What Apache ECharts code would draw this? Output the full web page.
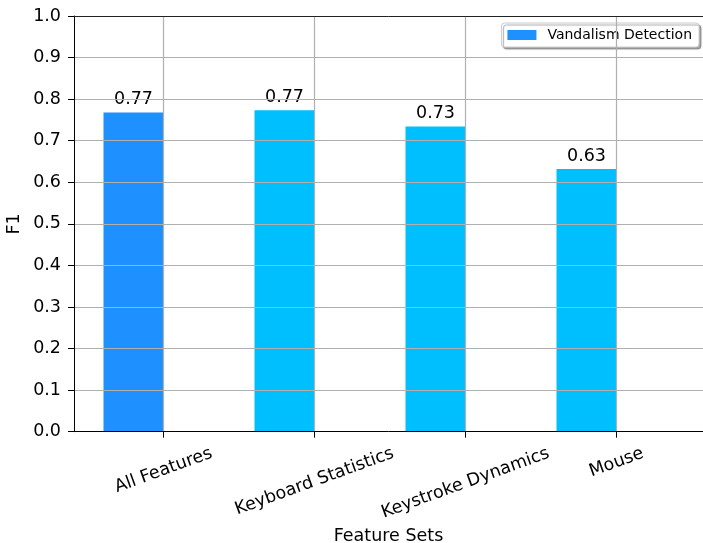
<!DOCTYPE html>
<html>
<head>
<meta charset="utf-8">
<script src="https://cdn.jsdelivr.net/npm/echarts@6/dist/echarts.min.js"></script>
<style>
  html, body { margin: 0; padding: 0; background: #fff; }
  #chart { width: 703px; height: 543px; }
</style>
</head>
<body>
<div id="chart"></div>
<script>
// Feature-set comparison: F1 score per feature group
const categories = ['All Features', 'Keyboard Statistics', 'Keystroke Dynamics', 'Mouse'];
const vandalismF1 = [0.768, 0.773, 0.734, 0.632];
const secondaryF1 = [0, 0.001, 0.001, 0.001];
const barColors = ['#1E90FF', '#00BFFF', '#00BFFF', '#00BFFF'];
const yTickStep = 0.1;

const FONT = '"DejaVu Sans", "Liberation Sans", sans-serif';
const FS = 17.5;
const ROT = 20;
const LABEL_MARGIN = 4;

// Rotated tick labels: the rotated box of each label is centred under its
// tick, its top a fixed distance below the axis. A taller line box moves the
// glyphs down along the rotated text's normal, right padding cancels the
// sideways drift that comes with it.
const ctx = document.createElement('canvas').getContext('2d');
ctx.font = FS + 'px ' + FONT;
const th = ROT * Math.PI / 180;
const categoryData = categories.map(function (name) {
  const w = ctx.measureText(name).width;
  const dy = 21.2 + 0.171 * w - LABEL_MARGIN;
  const lineH = 2 * dy * Math.cos(th);
  const u = dy * Math.sin(th);
  return {
    value: name,
    textStyle: { align: 'center', verticalAlign: 'top', lineHeight: lineH, padding: [0, 2 * u, 0, 0] }
  };
});

const chart = echarts.init(document.getElementById('chart'), null, { renderer: 'canvas' });

const gridTop = 16;
const gridBottom = 111.3;

chart.setOption({
  animation: false,
  backgroundColor: '#ffffff',
  textStyle: { fontFamily: FONT },
  legend: {
    data: [{ name: 'Vandalism Detection', icon: 'rect' }],
    right: 4,
    top: 23,
    itemWidth: 29,
    itemHeight: 10,
    padding: [5, 7, 5, 6],
    itemGap: 10,
    backgroundColor: '#ffffff',
    borderColor: '#cccccc',
    borderWidth: 1,
    borderRadius: 3,
    shadowColor: 'rgba(0,0,0,0.35)',
    shadowBlur: 1,
    shadowOffsetX: 2,
    shadowOffsetY: 2,
    textStyle: { fontFamily: FONT, fontSize: 14, color: '#000', padding: [0, 0, 0, 6] }
  },
  grid: [
    { left: 74, right: 0, top: gridTop, bottom: gridBottom, outerBoundsMode: 'none' },
    { left: 163.5, right: 86.5, top: gridTop, bottom: gridBottom, outerBoundsMode: 'none' }
  ],
  xAxis: [
    {
      // bottom spine and axis title
      type: 'value', gridIndex: 0, min: 0, max: 1, position: 'bottom',
      axisLine: { show: true, lineStyle: { color: '#000', width: 1 } },
      axisTick: { show: false }, axisLabel: { show: false }, splitLine: { show: false },
      name: 'Feature Sets', nameLocation: 'middle', nameGap: 96, nameMoveOverlap: false,
      nameTextStyle: { fontFamily: FONT, fontSize: FS, color: '#000' },
      z: 5
    },
    {
      // top spine
      type: 'value', gridIndex: 0, min: 0, max: 1, position: 'top',
      axisLine: { show: true, lineStyle: { color: '#222', width: 1 } },
      axisTick: { show: false }, axisLabel: { show: false }, splitLine: { show: false },
      z: 5
    },
    {
      type: 'category', gridIndex: 1, data: categoryData, boundaryGap: false,
      axisLine: { show: false },
      axisTick: { show: true, length: 6, inside: false, lineStyle: { color: '#000' } },
      axisLabel: {
        interval: 0, rotate: ROT, margin: LABEL_MARGIN, align: 'center', verticalAlign: 'top',
        fontFamily: FONT, fontSize: FS, color: '#000'
      },
      splitLine: { show: true, lineStyle: { color: '#b0b0b0', width: 1.2 } },
      z: 5
    }
  ],
  yAxis: [
    {
      type: 'value', gridIndex: 0, min: 0, max: 1, interval: yTickStep,
      axisLine: { show: true, lineStyle: { color: '#000', width: 1 } },
      axisTick: { show: true, length: 6, inside: false, lineStyle: { color: '#000' } },
      axisLabel: {
        margin: 13, fontFamily: FONT, fontSize: FS, color: '#000',
        formatter: function (v) { return v.toFixed(1); }
      },
      splitLine: { show: true, lineStyle: { color: '#b0b0b0', width: 1.2 } },
      name: 'F1', nameLocation: 'middle', nameGap: 51, nameRotate: 90, nameMoveOverlap: false,
      nameTextStyle: { fontFamily: FONT, fontSize: FS, color: '#000' },
      z: 5
    },
    {
      type: 'value', gridIndex: 1, min: 0, max: 1, show: false
    }
  ],
  series: [
    {
      name: 'Vandalism Detection',
      type: 'bar',
      xAxisIndex: 2, yAxisIndex: 1,
      barWidth: 60, barGap: '0%',
      itemStyle: { color: '#1E90FF' },
      data: vandalismF1.map(function (v, i) {
        return { value: v, itemStyle: { color: barColors[i] } };
      }),
      label: {
        show: true, position: 'top', distance: 4,
        fontFamily: FONT, fontSize: FS, color: '#000',
        formatter: function (p) { return p.value.toFixed(2); }
      },
      z: 2
    },
    {
      name: 'secondary',
      type: 'bar',
      xAxisIndex: 2, yAxisIndex: 1,
      barWidth: 60, barGap: '0%',
      itemStyle: { color: '#FFA500', opacity: 0.35 },
      data: secondaryF1,
      z: 2
    }
  ]
});
</script>
</body>
</html>
